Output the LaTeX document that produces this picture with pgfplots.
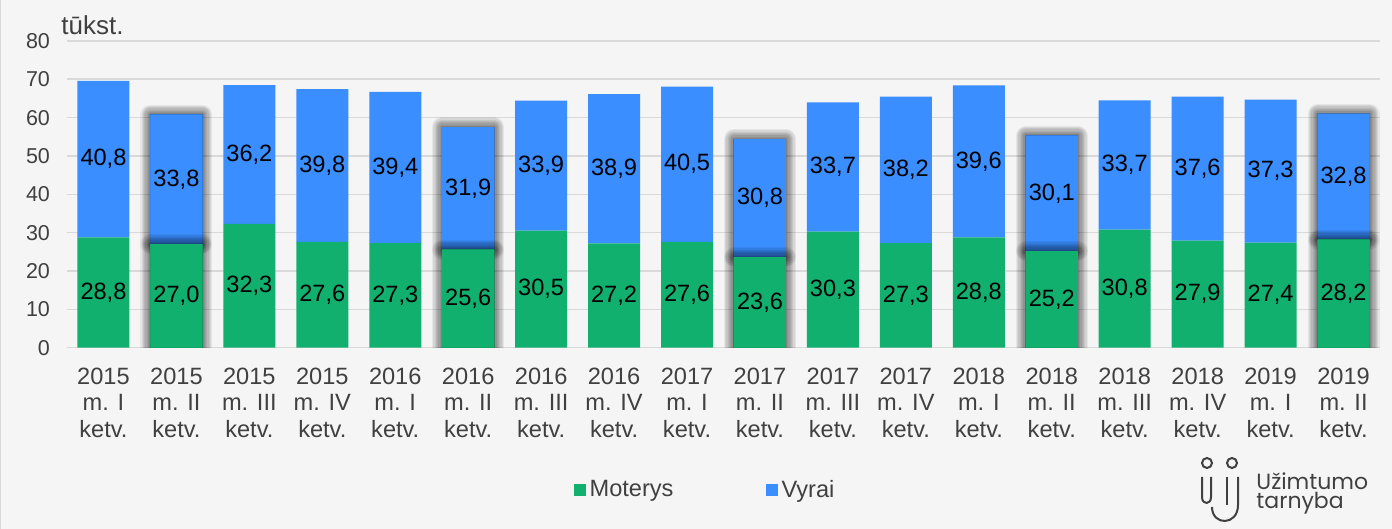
\documentclass[border=0pt]{standalone}
\usepackage{pgfplots}
\pgfplotsset{compat=1.18}
\usepackage{pgfplotstable}
\usepackage{fontspec}
\setmainfont{Liberation Sans}
\newfontfamily\logofont{Poppins}
\definecolor{bg}{HTML}{F5F5F5}
\definecolor{mgreen}{HTML}{12B06E}
\definecolor{mblue}{HTML}{3A8EFF}
\definecolor{gridc}{HTML}{D9D9D9}
\definecolor{txt}{HTML}{404040}

\pgfplotstableread{
x g b
0 28.8 40.8
2 32.3 36.2
3 27.6 39.8
4 27.3 39.4
6 30.5 33.9
7 27.2 38.9
8 27.6 40.5
10 30.3 33.7
11 27.3 38.2
12 28.8 39.6
14 30.8 33.7
15 27.9 37.6
16 27.4 37.3
}\normaldata

\pgfplotstableread{
x g b
1 27.0 33.8
5 25.6 31.9
9 23.6 30.8
13 25.2 30.1
17 28.2 32.8
}\hidata

% value labels, each at the middle of its segment
\pgfplotstableread{
x y lab
0 14.4 28,8
1 13.5 27,0
2 16.15 32,3
3 13.8 27,6
4 13.65 27,3
5 12.8 25,6
6 15.25 30,5
7 13.6 27,2
8 13.8 27,6
9 11.8 23,6
10 15.15 30,3
11 13.65 27,3
12 14.4 28,8
13 12.6 25,2
14 15.4 30,8
15 13.95 27,9
16 13.7 27,4
17 14.1 28,2
0 49.2 40,8
1 43.9 33,8
2 50.4 36,2
3 47.5 39,8
4 47.0 39,4
5 41.55 31,9
6 47.45 33,9
7 46.65 38,9
8 47.85 40,5
9 39.0 30,8
10 47.15 33,7
11 46.4 38,2
12 48.6 39,6
13 40.25 30,1
14 47.65 33,7
15 46.7 37,6
16 46.05 37,3
17 44.6 32,8
}\labdata

\pgfplotsset{
  base/.style={at={(0pt,0pt)}, anchor=south west, scale only axis,
    width=656.5pt, height=153.4pt,
    xmin=-0.5, xmax=17.5, ymin=0, ymax=80},
  glow/.style={
    preaction={draw=black, draw opacity=0.06, line width=10pt, line join=round},
    preaction={draw=black, draw opacity=0.07, line width=8.75pt, line join=round},
    preaction={draw=black, draw opacity=0.07, line width=7.5pt, line join=round},
    preaction={draw=black, draw opacity=0.07, line width=6.25pt, line join=round},
    preaction={draw=black, draw opacity=0.07, line width=5pt, line join=round},
    preaction={draw=black, draw opacity=0.07, line width=3.75pt, line join=round},
    preaction={draw=black, draw opacity=0.08, line width=2.5pt, line join=round},
    preaction={draw=black, draw opacity=0.10, line width=1.25pt, line join=round}},
  lab/.style={draw=none, mark=none, nodes near coords, point meta=explicit symbolic,
    nodes near coords align={center},
    every node near coord/.append style={anchor=center, inner sep=0pt,
      font=\fontsize{11.8}{13}\selectfont, text=black}},
}

\begin{document}
\begin{tikzpicture}
\begin{scope}[shift={(-33.5pt,173.85pt)}, x=0.5pt, y=-0.5pt]
  \fill[bg] (0,0) rectangle (1392,529);
  \draw[gridc, line width=0.5pt] (0.5,0) -- (0.5,529);
\end{scope}

% main axis: ordinary bars, grid, ticks, legend
\begin{axis}[base,
  ybar stacked, bar width=26pt,
  axis lines*=left,
  x axis line style={draw=gridc, line width=0.8pt},
  y axis line style={draw=none},
  ymajorgrids, grid style={draw=gridc, line width=0.8pt},
  major tick length=0pt,
  ytick={0,10,...,80},
  xtick={0,...,17},
  xticklabels={
    {2015\\m. I\\ketv.},{2015\\m. II\\ketv.},{2015\\m. III\\ketv.},{2015\\m. IV\\ketv.},
    {2016\\m. I\\ketv.},{2016\\m. II\\ketv.},{2016\\m. III\\ketv.},{2016\\m. IV\\ketv.},
    {2017\\m. I\\ketv.},{2017\\m. II\\ketv.},{2017\\m. III\\ketv.},{2017\\m. IV\\ketv.},
    {2018\\m. I\\ketv.},{2018\\m. II\\ketv.},{2018\\m. III\\ketv.},{2018\\m. IV\\ketv.},
    {2019\\m. I\\ketv.},{2019\\m. II\\ketv.}},
  xticklabel style={align=center, font=\fontsize{11.8}{13.3}\selectfont, text=txt, yshift=-6.5pt},
  yticklabel style={font=\fontsize{10.75}{12}\selectfont, text=txt, xshift=-5pt},
  /pgf/number format/assume math mode=true,
  legend style={at={(0.4867,-0.4638)}, anchor=center, draw=none, fill=none,
    font=\fontsize{11.8}{13}\selectfont, text=txt,
    /tikz/every even column/.append style={column sep=44pt}},
  legend columns=2,
  legend image code/.code={\fill[#1] (0pt,-3pt) rectangle (6pt,3pt);},
]
\addplot[fill=mgreen, draw=none] table[x=x, y=g] {\normaldata};
\addplot[fill=mblue, draw=none] table[x=x, y=b] {\normaldata};
\legend{Moterys, Vyrai}
\end{axis}

% highlighted bars with a dark glow
\begin{axis}[base, hide axis, ybar stacked, bar width=26pt]
\addplot[fill=mgreen, draw=none, glow] table[x=x, y=g] {\hidata};
\addplot[fill=mblue, draw=none, glow] table[x=x, y=b] {\hidata};
\end{axis}

% value labels
\begin{axis}[base, hide axis]
\addplot[lab] table[x=x, y=y, meta=lab] {\labdata};
\end{axis}

\begin{scope}[shift={(-33.5pt,173.85pt)}, x=0.5pt, y=-0.5pt]
  \node[anchor=base west, inner sep=0pt, font=\fontsize{13}{14}\selectfont, text=txt] at (61,35) {tūkst.};
  % logo
  \begin{scope}[txt, line width=1pt]
    \draw (1207,463) circle[radius=2.5pt];
    \draw (1232,463) circle[radius=2.5pt];
    \draw (1202,477) -- (1202,497) .. controls (1202,505) and (1211,505) .. (1211,497) -- (1211,477);
    \draw (1227,477) -- (1227,505);
    \draw (1238,477) -- (1238,505) .. controls (1238,526) and (1212,526) .. (1212,507);
  \end{scope}
  \node[anchor=base west, inner sep=0pt, font=\logofont\fontsize{11}{12}\selectfont, text=txt] at (1256,490) {Užimtumo};
  \node[anchor=base west, inner sep=0pt, font=\logofont\fontsize{11}{12}\selectfont, text=txt] at (1256,509) {tarnyba};
\end{scope}

\pgfresetboundingbox
\path (-33.5pt,-90.65pt) rectangle (662.5pt,173.85pt);
\end{tikzpicture}
\end{document}
